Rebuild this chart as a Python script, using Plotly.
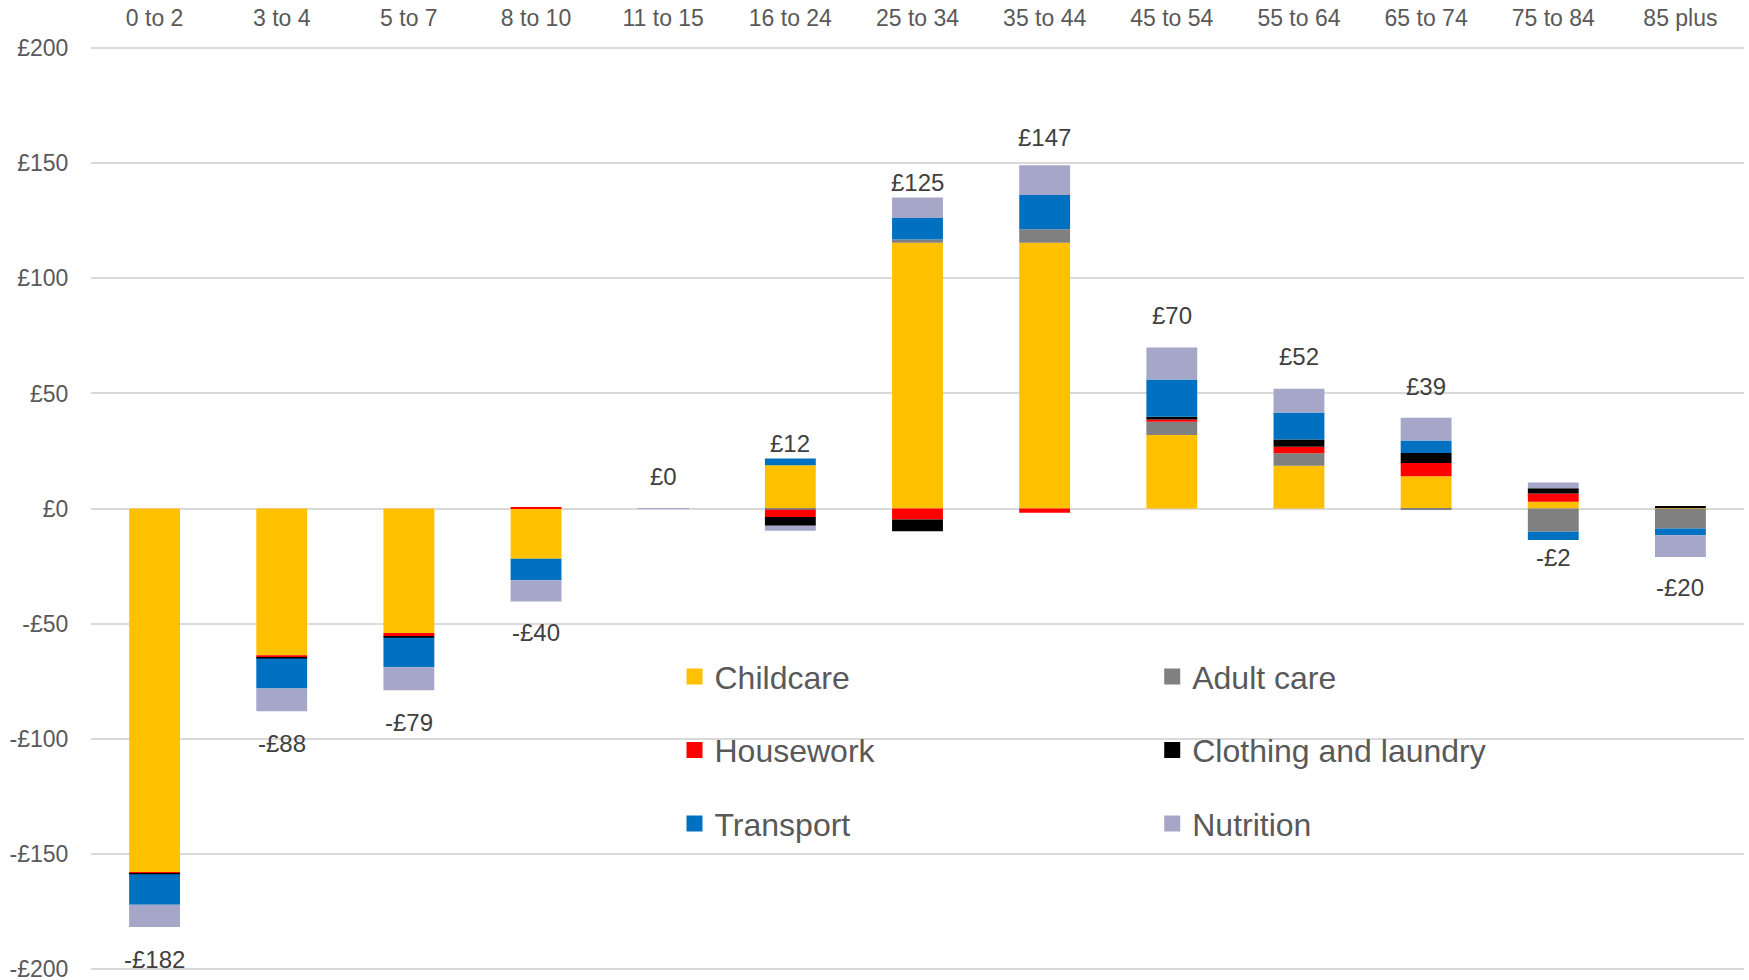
import plotly.graph_objects as go

# ── data (£ per week, by age group) ──────────────────────────
age_groups = ["0 to 2", "3 to 4", "5 to 7", "8 to 10", "11 to 15", "16 to 24",
              "25 to 34", "35 to 44", "45 to 54", "55 to 64", "65 to 74",
              "75 to 84", "85 plus"]

childcare = [-158.0, -63.8, -54.1, -21.8, 0.0, 18.8, 115.5, 115.5, 31.9, 18.6, 14.0, 2.9, 0.4]
adult_care = [0.0, 0.0, 0.0, 0.0, 0.0, -0.5, 1.4, 5.9, 5.8, 5.4, -0.5, -10.1, -8.7]
housework = [-0.6, -0.9, -1.4, 0.4, 0.2, -3.2, -4.8, -1.9, 1.0, 2.8, 5.8, 3.6, 0.0]
clothing = [-0.4, -0.5, -0.7, 0.0, 0.0, -3.8, -5.1, 0.0, 1.2, 3.2, 4.3, 2.3, 0.3]
transport = [-13.2, -13.0, -12.8, -9.4, 0.0, 2.9, 9.3, 14.8, 16.2, 11.7, 5.5, -3.6, -2.9]
nutrition = [-9.7, -9.9, -10.0, -9.2, -0.2, -2.2, 9.0, 13.0, 13.9, 10.3, 9.8, 2.5, -9.5]

y_ticks = [-200, -150, -100, -50, 0, 50, 100, 150, 200]
y_tick_labels = ["-£200", "-£150", "-£100", "-£50", "£0", "£50", "£100", "£150", "£200"]

series = [
    ("Childcare", childcare, "#FFC000", "legend"),
    ("Adult care", adult_care, "#808080", "legend2"),
    ("Housework", housework, "#FF0000", "legend"),
    ("Clothing and laundry", clothing, "#000000", "legend2"),
    ("Transport", transport, "#0070C0", "legend"),
    ("Nutrition", nutrition, "#A6A6C8", "legend2"),
]

FONT = "Liberation Sans, Arial, sans-serif"

fig = go.Figure()

# stacked bars (relative stacking: positives up, negatives down)
for name, vals, color, _ in series:
    fig.add_trace(go.Bar(
        x=age_groups, y=vals, name=name,
        marker=dict(color=color, line=dict(width=0)),
        showlegend=False, hoverinfo="x+y+name"
    ))

# legend entries: square markers, two columns
for name, vals, color, lg in series:
    fig.add_trace(go.Scatter(
        x=[None], y=[None], mode="markers", name=name,
        marker=dict(symbol="square", size=16, color=color),
        legend=lg, legendgroup=name, showlegend=True
    ))

# net total labels: away from the net value, but always clear of the stack
for i, cat in enumerate(age_groups):
    vals = [s[1][i] for s in series]
    net = sum(vals)
    pos_top = sum(v for v in vals if v > 0)
    neg_bot = sum(v for v in vals if v < 0)
    r = round(net)
    if r >= 0:
        txt = f"£{r}"
        y_lab = max(net + 14.0, pos_top + 6.4)
    else:
        txt = f"-£{abs(r)}"
        y_lab = min(net - 14.0, neg_bot - 7.5)
    fig.add_annotation(x=cat, y=y_lab, text=txt, showarrow=False,
                       yanchor="middle",
                       font=dict(size=24, color="#404040", family=FONT))

legend_common = dict(
    orientation="v", yanchor="top", xanchor="left",
    bgcolor="rgba(0,0,0,0)", tracegroupgap=29,
    font=dict(size=32, color="#595959", family=FONT),
    itemsizing="trace",
)

fig.update_layout(
    barmode="relative",
    bargap=0.6,
    width=1749, height=980,
    margin=dict(l=91, r=5, t=46, b=9),
    plot_bgcolor="white", paper_bgcolor="white",
    font=dict(family=FONT, color="#595959"),
    legend=dict(x=0.353, y=0.348, **legend_common),
    legend2=dict(x=0.642, y=0.348, **legend_common),
    xaxis=dict(
        side="top", showgrid=False, showline=False, zeroline=False,
        automargin=False,
        tickfont=dict(size=23, color="#595959"),
        ticks="outside", ticklen=10, tickcolor="rgba(0,0,0,0)",
    ),
    yaxis=dict(
        range=[-201, 201], tickvals=y_ticks, ticktext=y_tick_labels,
        automargin=False, ticklabeloverflow="allow",
        showgrid=True, gridcolor="#d9d9d9", gridwidth=1.5,
        zeroline=True, zerolinecolor="#d9d9d9", zerolinewidth=1.5,
        showline=False,
        tickfont=dict(size=23, color="#595959"),
        ticks="outside", ticklen=17, tickcolor="rgba(0,0,0,0)",
    ),
)

# drop the browser's default body margin so the figure fills the window
fig.write_html("out.html", config={"displayModeBar": False},
               post_script="document.body.style.margin='0';")
